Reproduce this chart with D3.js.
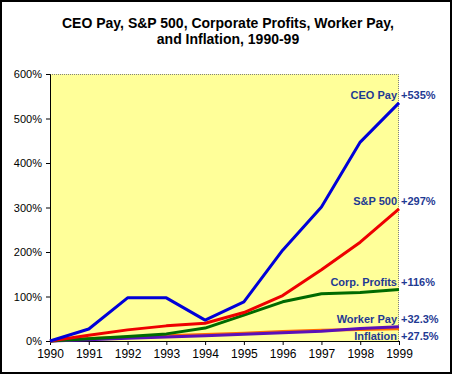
<!DOCTYPE html>
<html>
<head>
<meta charset="utf-8">
<script src="https://cdn.jsdelivr.net/npm/d3@7"></script>
<style>
  body { margin: 0; background: #fff; }
  svg { display: block; font-family: Arial, "Liberation Sans", sans-serif; }
</style>
</head>
<body>
<script>
// chart data
var years = [1990, 1991, 1992, 1993, 1994, 1995, 1996, 1997, 1998, 1999];
var ceoPay     = [0, 27, 97, 97, 47, 88, 204, 301, 447, 535];
var sp500      = [0, 13, 25, 34, 40, 64, 102, 160, 222, 297];
var corpProfit = [0, 5, 10, 16, 29, 58, 88, 106, 109, 116];
var workerPay  = [0, 3, 6, 9, 12, 15, 18.5, 22, 28, 32.3];
var inflation  = [0, 5.4, 8.5, 11.7, 14.6, 17.6, 21.1, 24, 25.6, 27.5];
var yTicks = [0, 100, 200, 300, 400, 500, 600];
var titleLines = ["CEO Pay, S&P 500, Corporate Profits, Worker Pay,", "and Inflation, 1990-99"];

// drawn bottom first
var series = [
  {name: "Inflation",     end: "+27.5%", values: inflation,  color: "#ff6a00", dy: 7},
  {name: "Worker Pay",    end: "+32.3%", values: workerPay,  color: "#5a10b8", dy: -7},
  {name: "Corp. Profits", end: "+116%",  values: corpProfit, color: "#006a00", dy: -7},
  {name: "S&P 500",       end: "+297%",  values: sp500,      color: "#ee0000", dy: -8},
  {name: "CEO Pay",       end: "+535%",  values: ceoPay,     color: "#0000d8", dy: -8}
];

var W = 454, H = 376;
var margin = {top: 74, right: 55, bottom: 35, left: 50};
var width = W - margin.left - margin.right;   // 349
var height = H - margin.top - margin.bottom;  // 267

var svg = d3.select("body").append("svg")
    .attr("width", W)
    .attr("height", H);

// outer frame
svg.append("rect")
    .attr("x", 1).attr("y", 1)
    .attr("width", 450).attr("height", 372)
    .attr("fill", "#fff")
    .attr("stroke", "#000")
    .attr("stroke-width", 2);

svg.selectAll("text.title")
    .data(titleLines)
    .enter().append("text")
    .attr("class", "title")
    .attr("x", 228)
    .attr("y", function(d, i) { return 28 + i * 16; })
    .attr("text-anchor", "middle")
    .style("font-size", "14px")
    .style("font-weight", "bold")
    .text(function(d) { return d; });

var g = svg.append("g")
    .attr("transform", "translate(" + margin.left + "," + margin.top + ")");

var x = d3.scaleLinear().domain([1990, 1999]).range([0, width]);
var y = d3.scaleLinear().domain([0, 600]).range([height, 0]);

// plot area
g.append("rect")
    .attr("width", width).attr("height", height)
    .attr("fill", "#ffff99");
g.append("path")
    .attr("d", "M0,0.5H" + (width - 0.5) + "V" + height)
    .attr("fill", "none")
    .attr("stroke", "#808080")
    .attr("stroke-dasharray", "1,1");

var yAxis = g.append("g")
    .call(d3.axisLeft(y).tickValues(yTicks).tickSize(4).tickPadding(4)
      .tickFormat(function(d) { return d + "%"; }));
yAxis.selectAll("text").style("font-size", "11px").attr("font-family", null);
yAxis.selectAll("line,path").attr("stroke", "#000");

var xAxis = g.append("g")
    .attr("transform", "translate(0," + height + ")")
    .call(d3.axisBottom(x).tickValues(years).tickSize(4).tickPadding(4)
      .tickFormat(d3.format("d")));
xAxis.selectAll("text").style("font-size", "12px").attr("font-family", null);
xAxis.selectAll("line,path").attr("stroke", "#000");

var line = d3.line()
    .x(function(d, i) { return x(years[i]); })
    .y(function(d) { return y(d); });

g.selectAll("path.series")
    .data(series)
    .enter().append("path")
    .attr("class", "series")
    .attr("d", function(d) { return line(d.values); })
    .attr("fill", "none")
    .attr("stroke", function(d) { return d.color; })
    .attr("stroke-width", 3)
    .attr("stroke-linejoin", "round");

// end labels
var labels = g.selectAll("g.lab")
    .data(series)
    .enter().append("g")
    .attr("class", "lab")
    .attr("transform", function(d) {
      return "translate(" + width + "," + (y(d.values[d.values.length - 1]) + d.dy) + ")";
    });
labels.append("text")
    .attr("x", -2)
    .attr("dy", "0.35em")
    .attr("text-anchor", "end")
    .style("font-size", "11px")
    .style("font-weight", "bold")
    .attr("fill", "#1f3a93")
    .text(function(d) { return d.name; });
labels.append("text")
    .attr("x", 2)
    .attr("dy", "0.35em")
    .style("font-size", "11px")
    .style("font-weight", "bold")
    .attr("fill", "#1f3a93")
    .text(function(d) { return d.end; });
</script>
</body>
</html>
